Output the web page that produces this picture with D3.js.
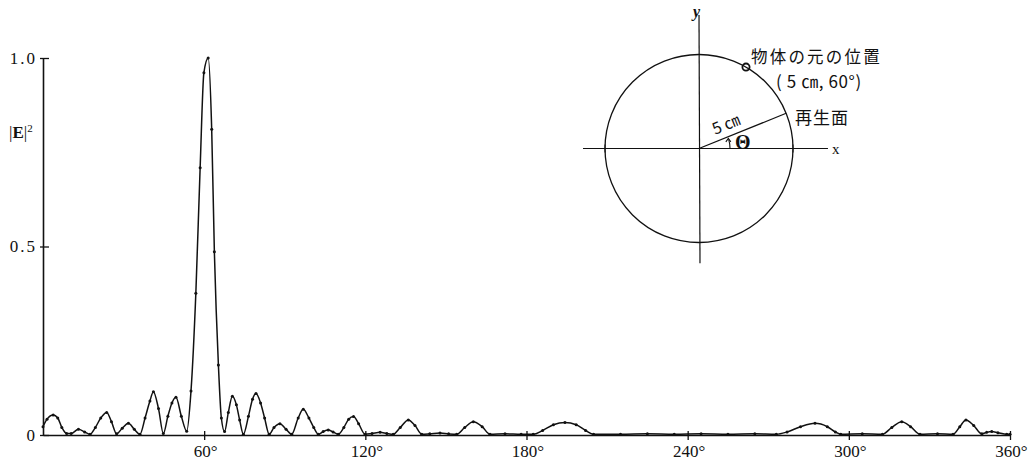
<!DOCTYPE html>
<html>
<head>
<meta charset="utf-8">
<script src="https://cdn.jsdelivr.net/npm/d3@7/dist/d3.min.js"></script>
<style>
  html, body { margin: 0; padding: 0; background: #fff; }
  svg { display: block; }
  .num { font-family: "Liberation Serif", "DejaVu Serif", serif; }
  .jp { font-family: "Noto Sans CJK JP", sans-serif; }
</style>
</head>
<body>
<svg id="chart" width="1036" height="463"></svg>
<script>
// Reconstructed intensity |E|^2 versus angle on the reconstruction circle
const angleDeg = [
  0, 1.5, 3.8, 5.5, 7, 8.8, 10.5, 13.2, 15.5, 17.5,
  19.5, 21.5, 23.7, 25.5, 27.4, 29.5, 31.8, 34, 36.1, 38,
  39.8, 41.1, 43, 44.8, 46.5, 48, 49.5, 51.5, 53.5, 55.1,
  56.9, 58.5, 59.9, 61.5, 62.8, 63.8, 65.3, 66.4, 67.6, 69,
  70.5, 72, 73.2, 74.6, 76.5, 78, 79.3, 81, 82.5, 84.2,
  86, 88.2, 90.5, 92.6, 95, 96.9, 99, 100.8, 102.5, 104.3,
  106.2, 108, 109.9, 112, 113.8, 115.6, 117.5, 119.9, 122.5, 125.5,
  128, 130.4, 133, 136, 138.5, 141, 144, 147.8, 151, 154,
  157, 160.2, 163.5, 166.4, 172, 178, 182.5, 186, 190, 194.3,
  198.5, 202, 205, 215, 225, 235, 245, 255, 265, 273,
  277, 282, 287.4, 292, 295, 297, 305, 312.5, 316, 319.7,
  323, 326.5, 333, 338.8, 341.3, 343.6, 346.5, 349.5, 351.3, 353.2,
  355.5, 358.8, 360
];
const intensity = [
  0.022, 0.042, 0.053, 0.045, 0.020, 0.004, 0.004, 0.015, 0.008, 0.002,
  0.020, 0.045, 0.060, 0.035, 0.003, 0.018, 0.031, 0.015, 0.002, 0.045,
  0.090, 0.115, 0.070, 0.004, 0.050, 0.085, 0.100, 0.050, 0.010, 0.117,
  0.376, 0.709, 0.961, 1.000, 0.811, 0.486, 0.186, 0.045, 0.009, 0.060,
  0.103, 0.080, 0.040, 0.002, 0.050, 0.095, 0.110, 0.085, 0.045, 0.002,
  0.020, 0.030, 0.015, 0.002, 0.045, 0.068, 0.045, 0.020, 0.002, 0.009,
  0.013, 0.008, 0.002, 0.020, 0.042, 0.049, 0.030, 0.002, 0.004, 0.007,
  0.004, 0.002, 0.020, 0.040, 0.025, 0.002, 0.003, 0.005, 0.003, 0.002,
  0.020, 0.035, 0.022, 0.002, 0.003, 0.002, 0.002, 0.012, 0.027, 0.033,
  0.027, 0.012, 0.002, 0.002, 0.003, 0.002, 0.003, 0.002, 0.003, 0.002,
  0.008, 0.022, 0.031, 0.022, 0.008, 0.002, 0.003, 0.002, 0.020, 0.035,
  0.022, 0.002, 0.003, 0.002, 0.022, 0.040, 0.025, 0.003, 0.007, 0.009,
  0.006, 0.002, 0.002
];
const xTickValues = [60, 120, 180, 240, 300, 360];
const xTickLabels = ["60°", "120°", "180°", "240°", "300°", "360°"];
const yTickValues = [0, 0.5, 1.0];
const yTickLabels = ["0", "0.5", "1.0"];

// Inset geometry (cm, degrees)
const circleRadiusCm = 5;
const sourcePoint = { r: 5, angle: 60 };
const planeAngle = 22;

const svg = d3.select("#chart");
const ink = "#111";

const x = d3.scaleLinear().domain([0, 360]).range([43, 1010]);
const y = d3.scaleLinear().domain([0, 1]).range([435, 58]);

// x axis along the zero line
const xAxis = svg.append("g")
  .attr("transform", `translate(0,${y(0)})`)
  .call(d3.axisBottom(x).tickValues(xTickValues)
    .tickFormat((d, i) => xTickLabels[i]).tickSizeOuter(0).tickSizeInner(5).tickPadding(6));
xAxis.select(".domain").attr("stroke", ink).attr("stroke-width", 1.6);
xAxis.selectAll(".tick line").attr("stroke", ink).attr("stroke-width", 1.3).attr("y1", -4).attr("y2", 5);
xAxis.selectAll(".tick text").attr("class", "num").attr("fill", ink)
  .style("font-size", "17px").attr("dy", "0.62em").attr("dx", "1px");

// y axis
const yAxis = svg.append("g")
  .attr("transform", `translate(${x(0)},0)`)
  .call(d3.axisLeft(y).tickValues(yTickValues)
    .tickFormat((d, i) => yTickLabels[i]).tickSizeOuter(0).tickSizeInner(3).tickPadding(3));
yAxis.select(".domain").attr("stroke", ink).attr("stroke-width", 1.6);
yAxis.selectAll(".tick line").attr("stroke", ink).attr("stroke-width", 1.3).attr("x2", 6).attr("x1", -3);
yAxis.selectAll(".tick text").attr("class", "num").attr("fill", ink)
  .style("font-size", "17px").style("letter-spacing", "2px");

// axis title |E|^2
const yTitle = svg.append("text").attr("class", "num").attr("x", 9).attr("y", 138)
  .attr("fill", ink).style("font-size", "17px");
yTitle.append("tspan").text("|");
yTitle.append("tspan").attr("font-weight", "bold").text("E");
yTitle.append("tspan").text("|");
yTitle.append("tspan").attr("dy", -6).style("font-size", "11px").text("2");

// intensity curve
const pts = angleDeg.map((a, i) => [a, intensity[i]]);
const line = d3.line().x(d => x(d[0])).y(d => y(d[1])).curve(d3.curveMonotoneX);
svg.append("path").datum(pts).attr("d", line)
  .attr("fill", "none").attr("stroke", ink).attr("stroke-width", 1.5).attr("stroke-linejoin", "round");
svg.append("g").selectAll("circle").data(pts).join("circle")
  .attr("cx", d => x(d[0])).attr("cy", d => y(d[1])).attr("r", 1.5).attr("fill", ink);

// ---- inset: reconstruction circle ----
const cx = 699, cy = 148.5;
const r = d3.scaleLinear().domain([0, circleRadiusCm]).range([0, 94]);
const polar = (rad, deg) => [cx + r(rad) * Math.cos(deg * Math.PI / 180), cy - r(rad) * Math.sin(deg * Math.PI / 180)];
const inset = svg.append("g").attr("stroke", ink).attr("fill", "none");

inset.append("circle").attr("cx", cx).attr("cy", cy).attr("r", r(circleRadiusCm)).attr("stroke-width", 1.3);
inset.append("line").attr("x1", cx - r(6.17)).attr("x2", cx + r(6.86)).attr("y1", cy).attr("y2", cy).attr("stroke-width", 1.2);
inset.append("line").attr("x1", cx).attr("x2", cx + 1).attr("y1", cy - r(7.1)).attr("y2", cy + r(6.1)).attr("stroke-width", 1.2);
// small ticks where the circle meets the axes
[[0, "v"], [180, "v"], [90, "h"], [270, "h"]].forEach(([deg, o]) => {
  const [px, py] = polar(circleRadiusCm, deg);
  if (o === "v") inset.append("line").attr("x1", px).attr("x2", px).attr("y1", py - 4).attr("y2", py + 4).attr("stroke-width", 1);
  else inset.append("line").attr("x1", px - 4).attr("x2", px + 4).attr("y1", py).attr("y2", py).attr("stroke-width", 1);
});

// radius to the reconstruction plane point
const [ex, ey] = polar(circleRadiusCm, planeAngle);
inset.append("line").attr("x1", cx).attr("y1", cy).attr("x2", ex).attr("y2", ey).attr("stroke-width", 1.2);

// original object position
const [sx, sy] = polar(sourcePoint.r, sourcePoint.angle);
inset.append("circle").attr("cx", sx).attr("cy", sy).attr("r", 3.6).attr("stroke-width", 1.8);

// angle arrow for theta
const arcR = r(1.65);
const arcGen = d3.arc().innerRadius(arcR).outerRadius(arcR).startAngle(Math.PI / 2).endAngle(Math.PI / 2 - 17 * Math.PI / 180);
inset.append("path").attr("transform", `translate(${cx},${cy})`).attr("d", arcGen()).attr("stroke-width", 1.1);
const [ax, ay] = polar(1.65, 19);
inset.append("path").attr("d", `M${ax - 2.5},${ay + 3.5} L${ax},${ay} L${ax + 2.5},${ay + 3.5}`).attr("stroke-width", 1.1);

// inset labels
svg.append("text").attr("class", "num").attr("x", 693).attr("y", 17).attr("fill", ink)
  .attr("font-weight", "bold").attr("font-style", "italic").style("font-size", "16px").text("y");
svg.append("text").attr("class", "num").attr("x", 832).attr("y", 154).attr("fill", ink)
  .style("font-size", "15px").text("x");
svg.append("text").attr("class", "jp").attr("x", 751).attr("y", 63).attr("fill", ink)
  .style("font-size", "16.5px").style("letter-spacing", "2.2px").text("物体の元の位置");
svg.append("text").attr("class", "jp").attr("x", 776).attr("y", 88).attr("fill", ink)
  .style("font-size", "17px").style("letter-spacing", "0.6px").text("( 5 ㎝, 60°)");
svg.append("text").attr("class", "jp").attr("x", 795).attr("y", 124).attr("fill", ink)
  .style("font-size", "17px").style("letter-spacing", "1px").text("再生面");
svg.append("text").attr("class", "jp").attr("transform", `translate(715,135) rotate(${-planeAngle})`)
  .attr("fill", ink).style("font-size", "16px").text("5 ㎝");
svg.append("text").attr("class", "num").attr("x", 735).attr("y", 149).attr("fill", ink)
  .attr("font-weight", "bold").style("font-size", "20px").text("Θ");
</script>
</body>
</html>
